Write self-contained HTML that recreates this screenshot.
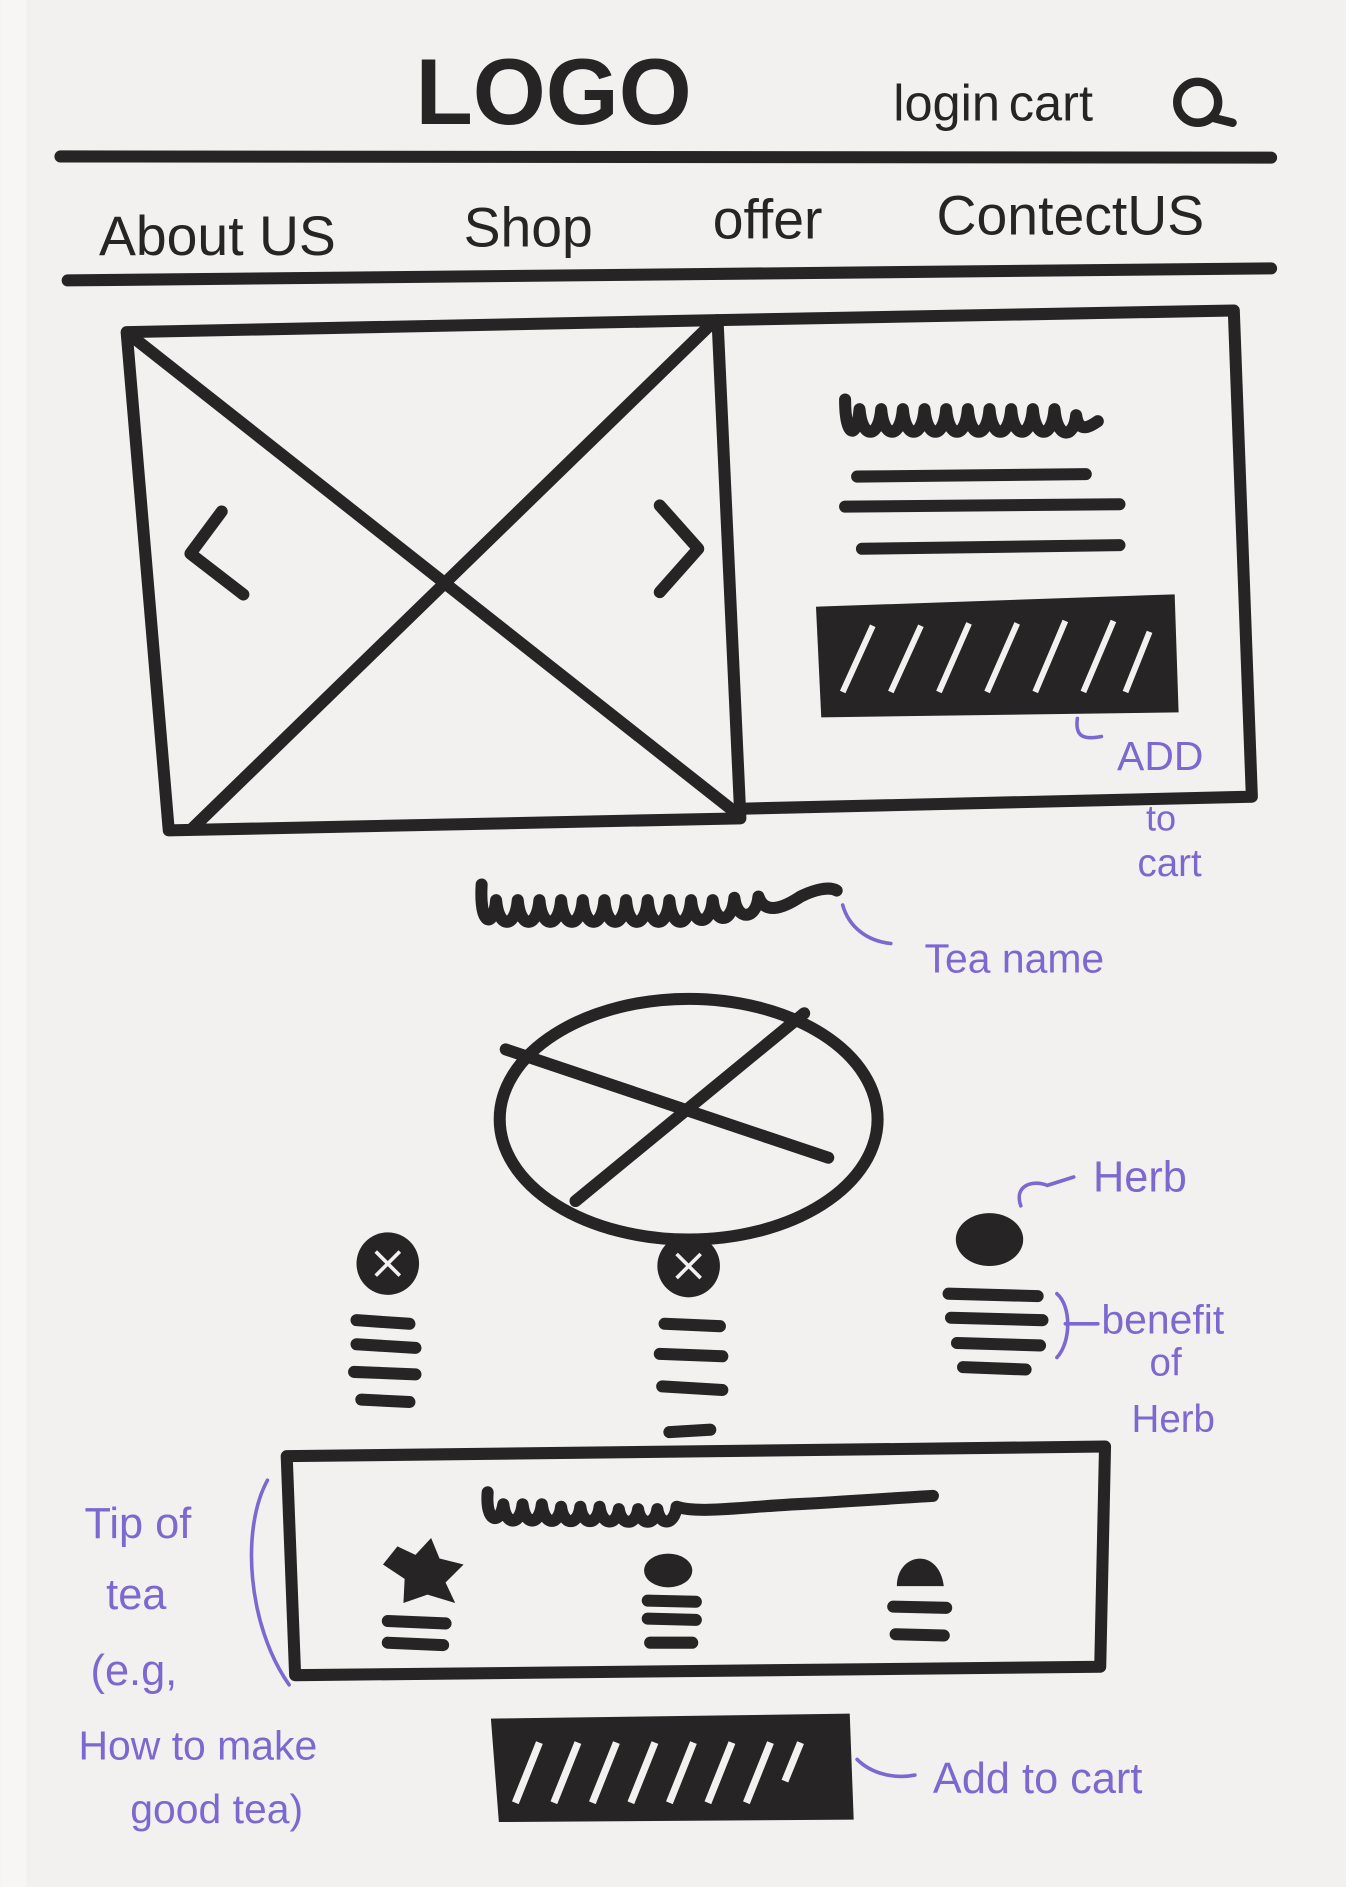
<!DOCTYPE html>
<html><head><meta charset="utf-8"><style>
html,body{margin:0;padding:0;background:#f2f1ef;}
svg{display:block;}
.ink{fill:none;stroke:#262424;stroke-width:10;stroke-linecap:round;stroke-linejoin:round;}
.thin{fill:none;stroke:#262424;stroke-width:7;stroke-linecap:round;stroke-linejoin:round;}
.t{font-family:"Liberation Sans",sans-serif;fill:#262424;}
.p{font-family:"Liberation Sans",sans-serif;fill:#7a6ad0;}
.pl{fill:none;stroke:#7a6ad0;stroke-width:3;stroke-linecap:round;}
</style></head><body>
<svg width="1346" height="1887" viewBox="0 0 1118 1568">
<rect x="0" y="0" width="1118" height="1568" fill="#f2f1ef"/>
<rect x="0" y="0" width="22" height="1568" fill="#f7f6f4"/>
<g>
<text class="t" x="345" y="103" font-size="78" font-weight="bold">LOGO</text>
<text class="t" x="742" y="100" font-size="42">login</text>
<text class="t" x="838" y="100" font-size="42">cart</text>
<g><circle class="thin" cx="995" cy="85" r="17"/><line class="thin" x1="1008" y1="98" x2="1024" y2="102"/></g>
<line class="ink" x1="50" y1="130" x2="1056" y2="131"/>
</g>
<g>
<text class="t" x="82" y="212" font-size="46">About US</text>
<text class="t" x="385" y="205" font-size="46">Shop</text>
<text class="t" x="592" y="198" font-size="46">offer</text>
<text class="t" x="778" y="195" font-size="46">ContectUS</text>
<line class="ink" x1="56" y1="233" x2="1056" y2="223"/>
</g>
<g>
<path class="ink" d="M105,276 L596,266 L615,680 L140,690 Z"/>
<line class="ink" x1="110" y1="280" x2="612" y2="676"/>
<line class="ink" x1="590" y1="270" x2="160" y2="688"/>
<polyline class="ink" points="184,425 158,460 202,494"/>
<polyline class="ink" points="548,420 580,456 548,492"/>
</g>
<g>
<path class="ink" d="M596,266 L1025,258 L1040,662 L615,672"/>
<path class="ink" d="M702,332 C702,365 712,365 714,340 C716,365 730,365 732,340 C734,365 748,365 750,340 C752,365 766,365 768,340 C770,365 784,365 786,340 C788,365 802,365 804,340 C806,365 820,365 822,340 C824,365 838,365 840,340 C842,365 856,365 858,340 C860,365 874,365 876,340 C878,365 892,365 894,345 C896,360 905,355 912,350"/>
<line class="ink" x1="712" y1="396" x2="902" y2="394"/>
<line class="ink" x1="702" y1="421" x2="930" y2="419"/>
<line class="ink" x1="716" y1="456" x2="930" y2="453"/>
<g>
<path d="M682,508 L972,498 L975,588 L686,592 Z" fill="#262424" stroke="#262424" stroke-width="8"/>
<g stroke="#f2f1ef" stroke-width="5">
<line x1="700" y1="575" x2="725" y2="520"/><line x1="740" y1="575" x2="765" y2="520"/><line x1="780" y1="575" x2="805" y2="518"/><line x1="820" y1="575" x2="845" y2="518"/><line x1="860" y1="575" x2="885" y2="516"/><line x1="900" y1="575" x2="925" y2="516"/><line x1="935" y1="575" x2="955" y2="525"/></g></g>
</g>
<g>
<path class="pl" d="M895,597 C893,612 900,615 915,612"/>
<text class="p" x="928" y="640" font-size="34">ADD</text>
<text class="p" x="952" y="690" font-size="30">to</text>
<text class="p" x="945" y="728" font-size="32">cart</text>
</g>
<path class="ink" d="M400,735 C398,770 410,772 412,748 C414,772 428,772 430,748 C432,772 446,772 448,748 C450,772 464,772 466,748 C468,772 482,772 484,748 C486,772 500,772 502,748 C504,772 518,772 520,748 C522,772 536,772 538,748 C540,772 554,772 556,748 C558,772 572,772 574,748 C576,770 590,770 592,748 C594,768 608,768 610,746 C612,765 628,765 630,745 C635,760 650,755 665,745 C675,740 688,736 695,740"/>
<g><path class="pl" d="M700,752 C705,770 720,782 740,784"/><text class="p" x="768" y="808" font-size="34">Tea name</text></g>
<g>
<ellipse class="ink" cx="572" cy="930" rx="157" ry="100"/>
<line class="ink" x1="668" y1="842" x2="478" y2="998"/>
<line class="ink" x1="420" y1="872" x2="688" y2="962"/>
</g>
<g>
<circle cx="322" cy="1050" r="26" fill="#262424"/><path d="M312,1040 L332,1060 M332,1040 L312,1060" stroke="#f2f1ef" stroke-width="3"/>
<line class="ink" x1="296" y1="1097" x2="340" y2="1100"/><line class="ink" x1="296" y1="1117" x2="345" y2="1120"/><line class="ink" x1="294" y1="1140" x2="345" y2="1142"/><line class="ink" x1="300" y1="1163" x2="340" y2="1165"/>
</g>
<g>
<circle cx="572" cy="1052" r="26" fill="#262424"/><path d="M562,1042 L582,1062 M582,1042 L562,1062" stroke="#f2f1ef" stroke-width="3"/>
<line class="ink" x1="552" y1="1100" x2="598" y2="1102"/><line class="ink" x1="548" y1="1125" x2="600" y2="1127"/><line class="ink" x1="550" y1="1152" x2="600" y2="1155"/><line class="ink" x1="556" y1="1190" x2="590" y2="1188"/>
</g>
<g>
<ellipse cx="822" cy="1030" rx="28" ry="22" fill="#262424"/>
<line class="ink" x1="788" y1="1075" x2="862" y2="1077"/><line class="ink" x1="790" y1="1095" x2="866" y2="1097"/><line class="ink" x1="795" y1="1116" x2="864" y2="1118"/><line class="ink" x1="800" y1="1136" x2="852" y2="1138"/>
</g>
<g>
<path class="pl" d="M848,1002 C842,985 858,980 870,985 L892,978"/>
<text class="p" x="908" y="990" font-size="36">Herb</text>
<path class="pl" d="M878,1075 C890,1085 890,1115 878,1128 M885,1100 L912,1100"/>
<text class="p" x="915" y="1108" font-size="34">benefit</text>
<text class="p" x="955" y="1143" font-size="32">of</text>
<text class="p" x="940" y="1190" font-size="32">Herb</text>
</g>
<g>
<path class="ink" d="M238,1210 L918,1202 L914,1385 L245,1392 Z"/>
<path class="ink" d="M405,1240 C403,1265 415,1268 418,1250 C420,1268 432,1268 434,1250 C436,1268 448,1268 450,1250 C452,1268 464,1268 466,1252 C468,1268 480,1268 482,1252 C484,1268 496,1268 498,1252 C500,1268 512,1268 514,1254 C516,1268 528,1268 530,1254 C532,1268 544,1268 546,1254 C548,1268 560,1268 562,1252 C580,1258 620,1252 660,1250 C700,1248 740,1245 775,1243"/>
<g><path d="M330,1285 L345,1292 L358,1278 L365,1295 L385,1300 L370,1315 L378,1332 L355,1325 L335,1332 L336,1312 L318,1300 Z" fill="#262424"/>
<line class="ink" x1="322" y1="1347" x2="370" y2="1349"/><line class="ink" x1="322" y1="1365" x2="368" y2="1367"/></g>
<g><ellipse cx="555" cy="1305" rx="20" ry="14" fill="#262424"/><line class="ink" x1="538" y1="1330" x2="578" y2="1331"/><line class="ink" x1="538" y1="1345" x2="578" y2="1346"/><line class="ink" x1="540" y1="1365" x2="575" y2="1365"/></g>
<g><path d="M745,1318 C745,1290 780,1285 784,1318 Z" fill="#262424"/><line class="ink" x1="742" y1="1335" x2="786" y2="1336"/><line class="ink" x1="744" y1="1358" x2="784" y2="1359"/></g>
</g>
<g>
<path class="pl" d="M222,1230 C200,1270 205,1350 240,1400"/>
<text class="p" x="70" y="1278" font-size="36">Tip of</text>
<text class="p" x="88" y="1337" font-size="36">tea</text>
<text class="p" x="75" y="1400" font-size="36">(e.g,</text>
<text class="p" x="65" y="1462" font-size="34">How to make</text>
<text class="p" x="108" y="1515" font-size="34">good tea)</text>
</g>
<g>
<path d="M412,1432 L702,1428 L705,1508 L418,1510 Z" fill="#262424" stroke="#262424" stroke-width="8"/>
<g stroke="#f2f1ef" stroke-width="6">
<line x1="428" y1="1498" x2="448" y2="1448"/><line x1="460" y1="1498" x2="480" y2="1448"/><line x1="492" y1="1498" x2="512" y2="1448"/><line x1="524" y1="1498" x2="544" y2="1448"/><line x1="556" y1="1498" x2="576" y2="1448"/><line x1="588" y1="1498" x2="608" y2="1448"/><line x1="620" y1="1498" x2="640" y2="1448"/><line x1="652" y1="1480" x2="665" y2="1448"/></g></g>
<g><path class="pl" d="M712,1462 C725,1475 745,1478 760,1475"/><text class="p" x="775" y="1490" font-size="36">Add to cart</text></g>
</svg>
</body></html>
